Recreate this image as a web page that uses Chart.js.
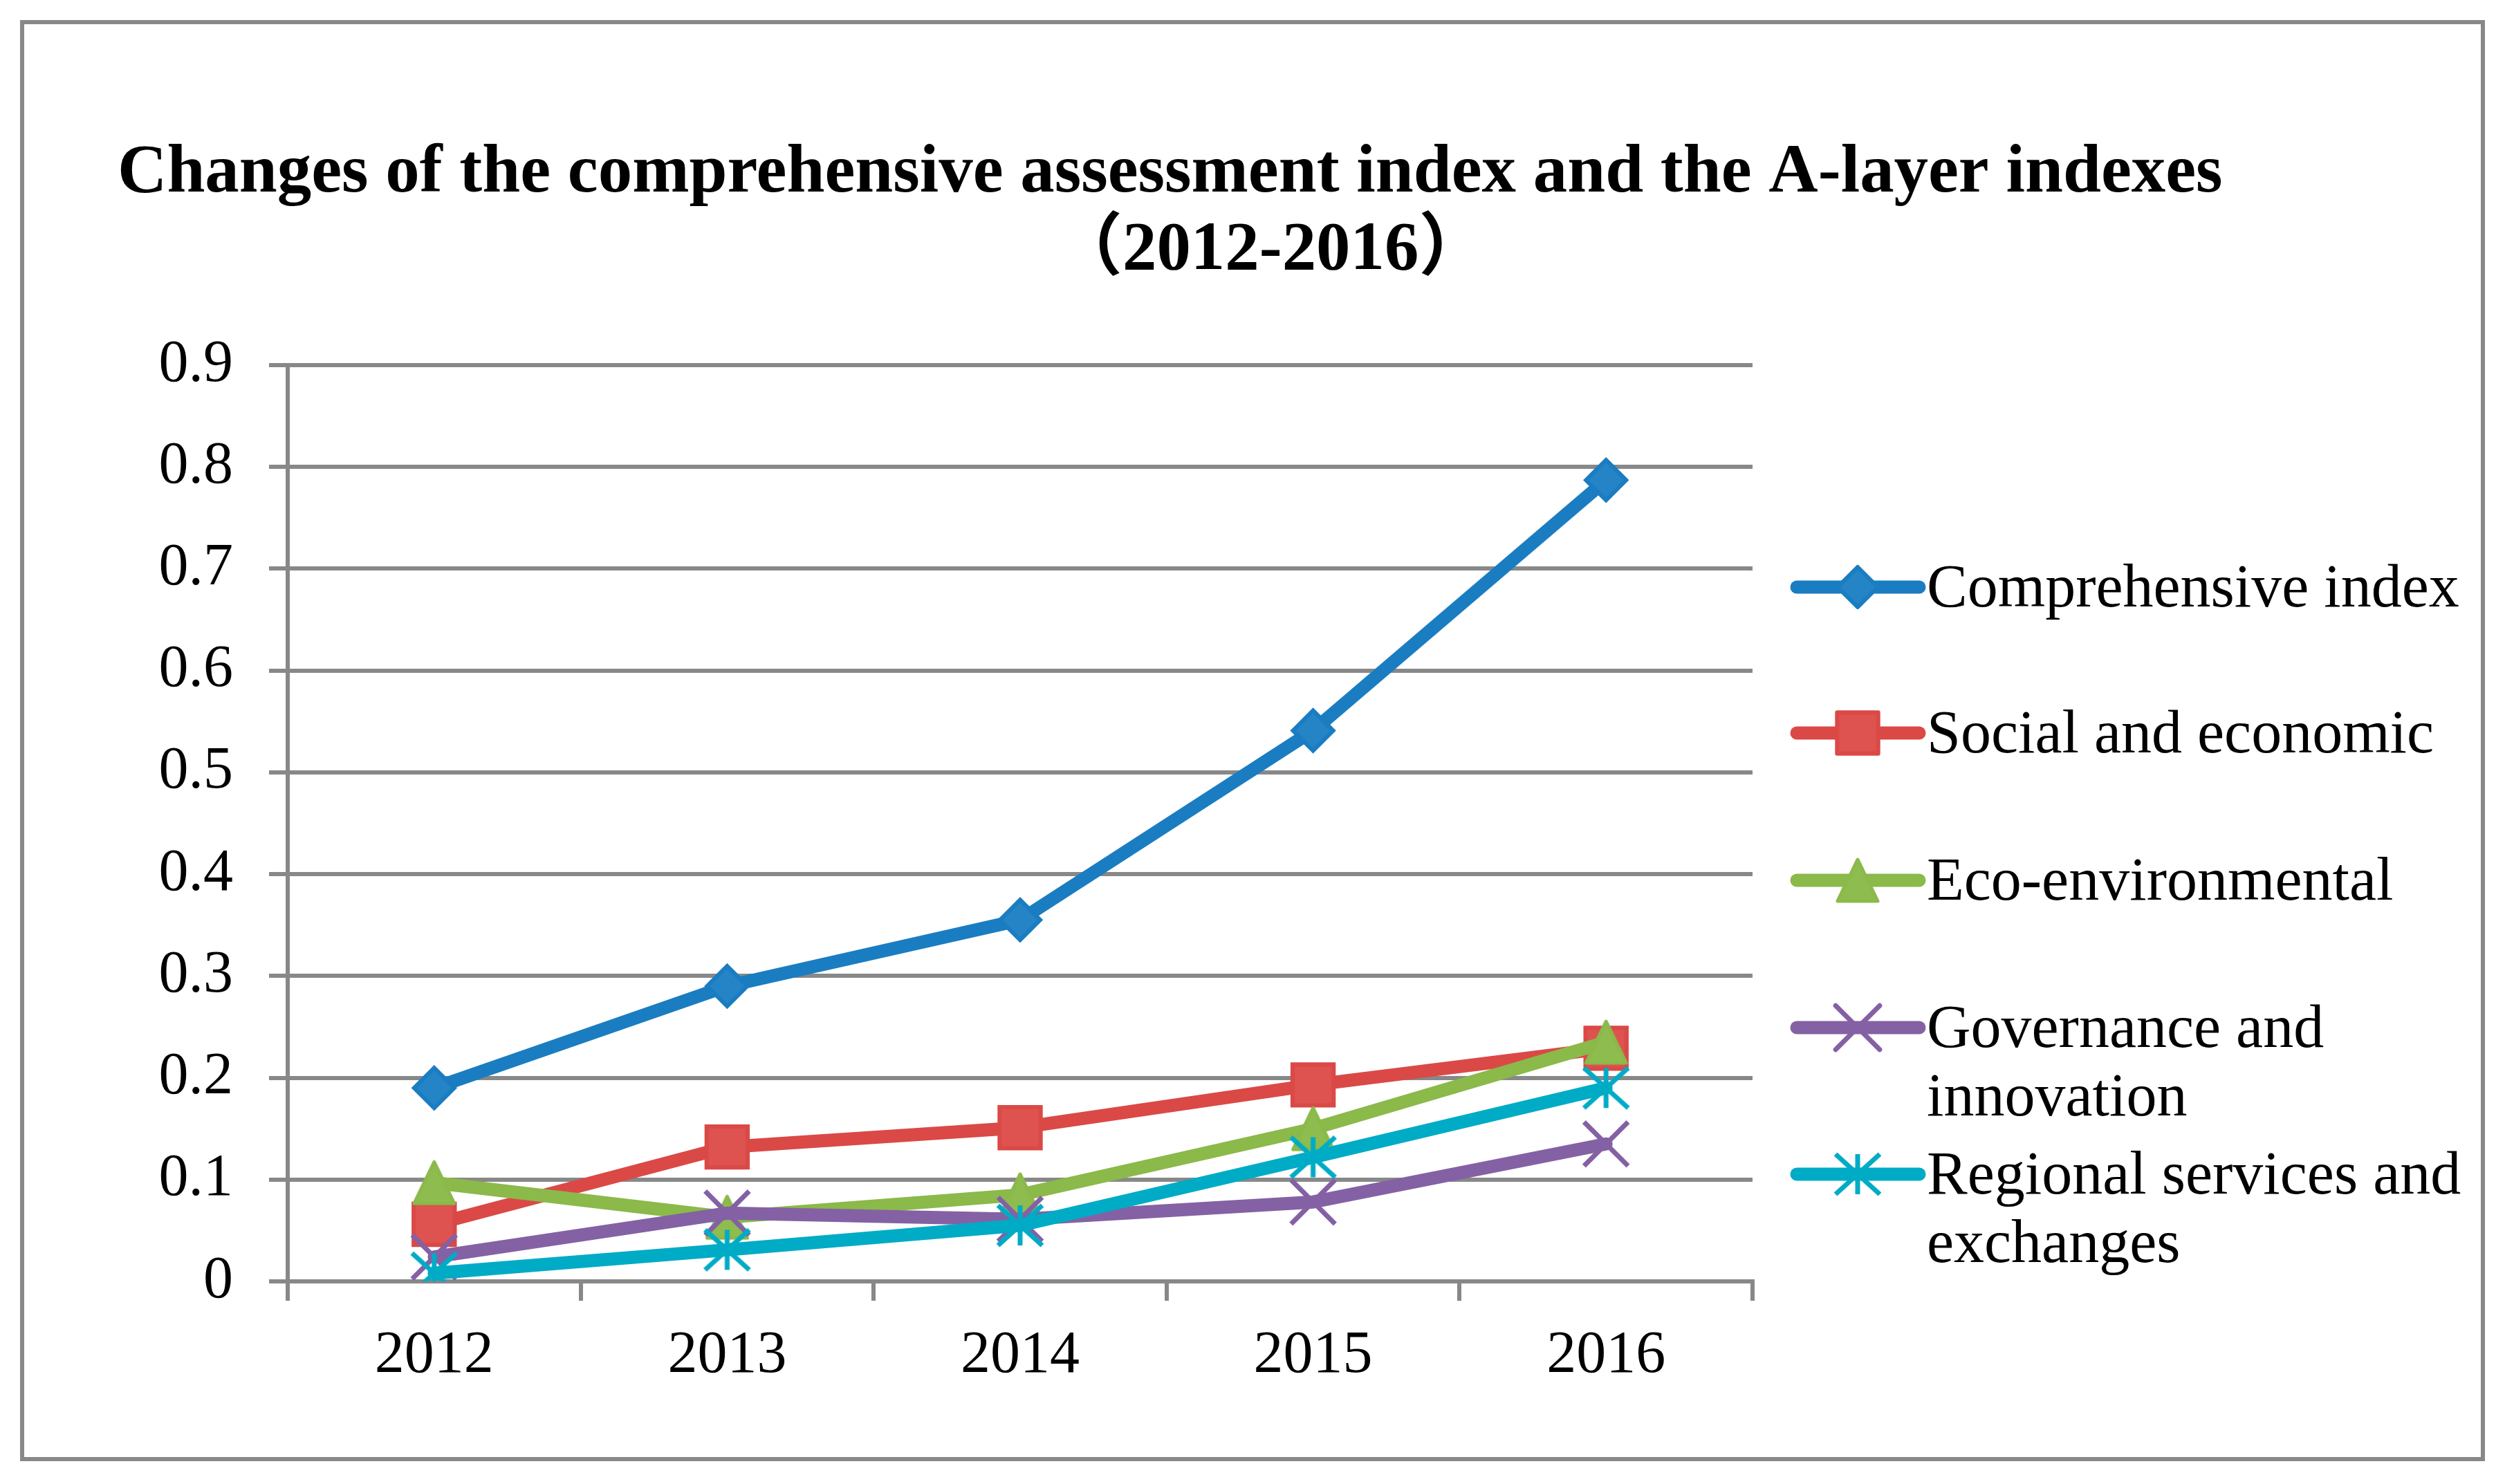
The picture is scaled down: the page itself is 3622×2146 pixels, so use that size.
<!DOCTYPE html>
<html>
<head>
<meta charset="utf-8">
<script src="https://cdn.jsdelivr.net/npm/chart.js@4/dist/chart.umd.min.js"></script>
<style>
  html, body { margin: 0; padding: 0; background: #ffffff; overflow: hidden; }
  #wrap { width: 3622px; height: 2146px; }
</style>
</head>
<body>
<div id="wrap"><canvas id="c" width="3622" height="2146"></canvas></div>
<script>
// ---------- data ----------
const categories = ['2012', '2013', '2014', '2015', '2016'];
const comprehensiveIndex = [0.190, 0.290, 0.355, 0.541, 0.787];
const socialEconomic     = [0.056, 0.132, 0.151, 0.193, 0.229];
const ecoEnvironmental   = [0.097, 0.063, 0.085, 0.150, 0.235];
const governanceInnov    = [0.024, 0.067, 0.061, 0.078, 0.135];
const regionalServices   = [0.008, 0.031, 0.055, 0.122, 0.190];
const seriesNames = ['Comprehensive index', 'Social and economic', 'Eco-environmental',
                     'Governance and innovation', 'Regional services and exchanges'];
const legendLines = [['Comprehensive index'], ['Social and economic'], ['Eco-environmental'],
                     ['Governance and', 'innovation'], ['Regional services and', 'exchanges']];
const yMin = 0, yMax = 0.9, yStep = 0.1;
const titleLine1 = 'Changes of the comprehensive assessment index and the A-layer indexes';
const titleLine2 = '\uFF082012-2016\uFF09';

// ---------- styles ----------
const SERIF = '"Liberation Serif", "Times New Roman", serif';
const colors = {
  blue:   { line: '#1A7DC1', fill: '#2584C6' },
  red:    { line: '#DA4946', fill: '#DE524F' },
  green:  { line: '#8BB94A', fill: '#8FBC4E' },
  purple: { line: '#8461A4', fill: '#8461A4' },
  cyan:   { line: '#00ABC6', fill: '#00ABC6' }
};

function makeTriangle(col) {
  const cv = document.createElement('canvas');
  cv.width = 80; cv.height = 80;
  const g = cv.getContext('2d');
  g.translate(40, 40);
  g.beginPath();
  g.moveTo(0, -30); g.lineTo(29, 30); g.lineTo(-29, 30); g.closePath();
  g.fillStyle = col.fill; g.fill();
  g.lineJoin = 'round'; g.lineWidth = 5; g.strokeStyle = col.line; g.stroke();
  return cv;
}
function makeStar(col) {
  const cv = document.createElement('canvas');
  cv.width = 80; cv.height = 80;
  const g = cv.getContext('2d');
  g.translate(40, 40);
  g.strokeStyle = col.line; g.lineWidth = 7; g.lineCap = 'butt';
  g.beginPath();
  g.moveTo(0, -29); g.lineTo(0, 29);
  g.moveTo(-32, -29); g.lineTo(32, 29);
  g.moveTo(32, -29); g.lineTo(-32, 29);
  g.stroke();
  return cv;
}

const seriesData = [comprehensiveIndex, socialEconomic, ecoEnvironmental, governanceInnov, regionalServices];
const seriesColors = [colors.blue, colors.red, colors.green, colors.purple, colors.cyan];
const seriesPoint = [
  { style: 'rectRot', radius: 29, bw: 6 },
  { style: 'rect', radius: 42, bw: 6 },
  { style: makeTriangle(colors.green), radius: 33, bw: 0 },
  { style: 'crossRot', radius: 45, bw: 7 },
  { style: makeStar(colors.cyan), radius: 33, bw: 0 }
];

const datasets = seriesData.map((d, i) => ({
  label: seriesNames[i],
  data: d,
  borderColor: seriesColors[i].line,
  backgroundColor: seriesColors[i].fill,
  borderWidth: 19,
  borderJoinStyle: 'round',
  borderCapStyle: 'round',
  tension: 0,
  fill: false,
  pointStyle: seriesPoint[i].style,
  pointRadius: seriesPoint[i].radius,
  pointHoverRadius: seriesPoint[i].radius,
  pointBorderWidth: seriesPoint[i].bw,
  pointBorderColor: seriesColors[i].line,
  pointBackgroundColor: seriesColors[i].fill,
  order: seriesData.length - 1 - i
}));

// ---------- plugins ----------
const framePlugin = {
  id: 'frame',
  beforeDraw(chart) {
    const ctx = chart.ctx;
    ctx.save();
    ctx.fillStyle = '#ffffff';
    ctx.fillRect(0, 0, chart.width, chart.height);
    ctx.strokeStyle = '#888888';
    ctx.lineWidth = 6;
    ctx.strokeRect(32, 32, 3558, 2078);
    ctx.restore();
  }
};

const titlePlugin = {
  id: 'customTitle',
  afterDraw(chart) {
    const ctx = chart.ctx;
    ctx.save();
    ctx.fillStyle = '#000000';
    ctx.textBaseline = 'alphabetic';
    ctx.font = 'bold 100px ' + SERIF;
    const w = ctx.measureText(titleLine1).width;
    const size = 100 * 3044 / w;
    ctx.font = 'bold ' + size.toFixed(2) + 'px ' + SERIF;
    ctx.textAlign = 'left';
    ctx.fillText(titleLine1, 170, 277);
    const font2 = 'bold ' + size.toFixed(2) + 'px ' + SERIF + ', "Noto Sans CJK SC"';
    ctx.font = font2;
    const pw = ctx.measureText('\uFF08').width;
    ctx.fillText(titleLine2, 1623 - pw, 389);
    ctx.restore();
  }
};

const legendPlugin = {
  id: 'customLegend',
  afterDraw(chart) {
    const ctx = chart.ctx;
    const rows = [849, 1060, 1273, 1486, 1698];
    const lineGap = 99;
    const x1 = 2598, x2 = 2775, mx = 2686, tx = 2786;
    ctx.save();
    chart.data.datasets.forEach((ds, i) => {
      const y = rows[i];
      ctx.beginPath();
      ctx.strokeStyle = ds.borderColor;
      ctx.lineWidth = ds.borderWidth;
      ctx.lineCap = 'round';
      ctx.moveTo(x1, y); ctx.lineTo(x2, y);
      ctx.stroke();
      ctx.save();
      ctx.fillStyle = ds.pointBackgroundColor;
      ctx.strokeStyle = ds.pointBorderColor;
      ctx.lineWidth = ds.pointBorderWidth;
      ctx.lineJoin = 'round';
      Chart.helpers.drawPoint(ctx, {
        pointStyle: ds.pointStyle, rotation: 0,
        radius: ds.pointRadius, borderWidth: ds.pointBorderWidth
      }, mx, y);
      ctx.restore();
      ctx.fillStyle = '#000000';
      ctx.font = '88px ' + SERIF;
      ctx.textAlign = 'left';
      ctx.textBaseline = 'alphabetic';
      legendLines[i].forEach((t, k) => ctx.fillText(t, tx, y + 28 + k * lineGap));
    });
    ctx.restore();
  }
};

// ---------- chart ----------
const tickFont = { family: SERIF, size: 86 };
new Chart(document.getElementById('c'), {
  type: 'line',
  data: { labels: categories, datasets: datasets },
  options: {
    responsive: false,
    animation: false,
    devicePixelRatio: 1,
    events: [],
    layout: { padding: { left: 0, top: 528, right: 1088, bottom: 0 } },
    plugins: { legend: { display: false }, title: { display: false }, tooltip: { enabled: false } },
    elements: { point: { hitRadius: 0 } },
    scales: {
      x: {
        type: 'category',
        offset: true,
        grid: { offset: true, drawOnChartArea: false, drawTicks: true, color: '#888888',
                lineWidth: 6, tickLength: 28, tickColor: '#888888', tickWidth: 6 },
        border: { display: true, color: '#888888', width: 6 },
        ticks: { font: tickFont, color: '#000000', padding: 29, maxRotation: 0, autoSkip: false },
        afterFit(scale) { scale.height = 293; }
      },
      y: {
        min: yMin, max: yMax,
        grid: { color: '#888888', lineWidth: 6, tickLength: 27, drawTicks: true,
                tickColor: '#888888', tickWidth: 6 },
        border: { display: true, color: '#888888', width: 6 },
        ticks: { stepSize: yStep, font: tickFont, color: '#000000', padding: 52,
                 callback: (v) => String(Number(v.toFixed(1))) },
        afterFit(scale) { scale.width = 416; }
      }
    }
  },
  plugins: [framePlugin, titlePlugin, legendPlugin]
});
</script>
</body>
</html>
